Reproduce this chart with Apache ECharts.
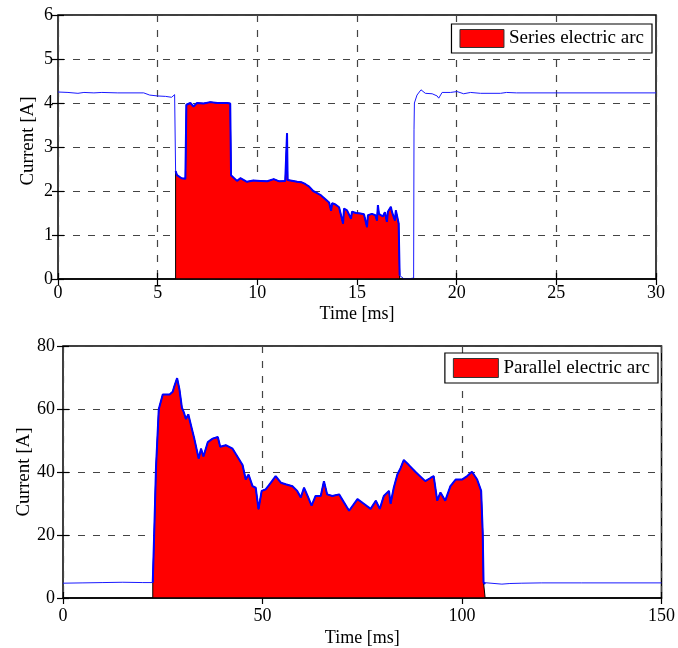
<!DOCTYPE html>
<html>
<head>
<meta charset="utf-8">
<script src="https://cdn.jsdelivr.net/npm/echarts@6/dist/echarts.min.js"></script>
<style>
html, body { margin: 0; padding: 0; background: #fff; }
#main { width: 678px; height: 648px; }
</style>
</head>
<body>
<div id="main"></div>
<script>
// top panel: series electric arc (time in ms, current in A)
var seriesTime = [0, 0.5, 1.0, 1.3, 1.8, 2.2, 3.0, 4.3, 4.6, 5.0, 5.4, 5.7, 5.8, 5.85, 5.87,
  5.9, 5.97, 6.2, 6.39, 6.44, 6.64, 6.8, 6.97, 7.3, 7.64, 8.0, 8.48, 8.64,
  8.68, 8.98, 9.15, 9.48, 9.8, 10.15, 10.5, 10.82, 11.1, 11.4, 11.47, 11.49, 11.52, 11.57,
  12.0, 12.1, 12.2, 12.3, 12.4, 12.49, 12.6, 12.7, 12.8, 12.9, 13.0, 13.1, 13.2, 13.3, 13.4,
  13.5, 13.6, 13.7, 13.75, 13.83, 13.9, 14.0, 14.1, 14.2, 14.3, 14.35, 14.45, 14.5, 14.6,
  14.7, 14.75, 14.85, 14.95, 15.05, 15.17, 15.25, 15.35, 15.45, 15.5, 15.55, 15.65, 15.75,
  15.84, 15.92, 16.0, 16.05, 16.1, 16.2, 16.3, 16.4, 16.5, 16.55, 16.6, 16.7, 16.75, 16.84,
  16.9, 16.95, 17.04, 17.09,
  17.14, 17.34, 17.67, 17.84, 17.86, 17.88, 18.01, 18.21, 18.43, 18.77, 19.02, 19.1, 19.27,
  19.69, 20.02, 20.35, 20.7, 21.19, 22.2, 22.5, 23.0, 30.0];
var seriesCurrent = [4.25, 4.24, 4.22, 4.24, 4.23, 4.24, 4.23, 4.23, 4.18, 4.16, 4.15, 4.13, 4.16, 4.19, 4.18,
  2.45, 2.36, 2.29, 2.28, 3.96, 4.0, 3.92, 4.0, 3.99, 4.02, 4.0, 4.0, 3.99,
  2.36, 2.23, 2.29, 2.21, 2.24, 2.23, 2.22, 2.27, 2.22, 2.23, 2.24, 3.31, 2.25, 2.23,
  2.21, 2.23, 2.2, 2.18, 2.16, 2.13, 2.1, 2.06, 2.0, 1.98, 1.95, 1.93, 1.9, 1.86, 1.82,
  1.79, 1.74, 1.55, 1.72, 1.68, 1.7, 1.66, 1.63, 1.62, 1.26, 1.6, 1.58, 1.56, 1.55,
  1.37, 1.53, 1.54, 1.5, 1.5, 1.49, 1.46, 1.47, 1.44, 1.18, 1.45, 1.43, 1.48,
  1.47, 1.45, 1.33, 1.68, 1.48, 1.5, 1.42, 1.52, 1.3, 1.53, 1.5, 1.64, 1.53, 1.56,
  1.33, 1.56, 1.57, 1.26,
  0.08, 0.01, 0.01, 0.02, 3.39, 4.0, 4.18, 4.3, 4.22, 4.21, 4.16, 4.11, 4.24,
  4.24, 4.26, 4.21, 4.24, 4.22, 4.22, 4.24, 4.23, 4.23];
var seriesArcStart = 5.9;
var seriesArcEnd = 17.14;

// bottom panel: parallel electric arc
var parallelTime = [0, 5, 10, 15, 20, 22.5, 22.7, 22.9, 23.3, 24.0, 25.0, 26.7, 27.5, 27.9, 28.6,
  29.2, 29.8, 30.3, 30.8, 31.4, 32.1, 32.9, 34.0, 34.6, 35.2, 36.3, 37.5, 38.8, 39.4, 40.8,
  42.5, 43.7, 45.0, 45.8, 46.5, 47.5, 48.3, 49.0, 49.8, 50.8, 52.1, 53.3, 54.6, 55.8, 57.5,
  58.7, 59.6, 60.4, 61.3, 62.3, 63.3, 64.6, 65.4, 66.2, 67.5, 69.2, 71.7, 73.8, 75.4, 77.1,
  78.4, 79.4, 80.4, 81.7, 82.1, 82.9, 83.8, 84.6, 85.4, 86.7, 88.3, 90.8, 92.1, 92.9, 93.8,
  94.6, 95.8, 97.1, 98.4, 100.0, 101.3, 102.5, 103.8, 104.8, 105.2, 105.4, 105.8, 110, 112,
  115, 120, 130, 150];
var parallelCurrent = [4.7, 4.8, 4.9, 5.0, 4.9, 4.9, 4.9, 22.5, 41.2, 59.9, 64.6, 64.6, 65.5, 67.2, 69.8,
  66.1, 60.4, 58.9, 56.8, 58.3, 54.7, 50.6, 44.3, 47.4, 44.9, 49.5, 50.6, 51.1, 48.0, 48.5,
  47.4, 44.9, 42.2, 37.6, 39.2, 35.5, 35.0, 28.2, 34.0, 34.5, 36.6, 38.7, 36.6, 36.1, 35.5,
  34.0, 31.9, 35.0, 32.4, 29.3, 32.4, 32.4, 37.1, 32.9, 32.4, 32.9, 27.7, 31.4, 29.9, 28.3,
  30.9, 28.3, 32.4, 34.0, 29.9, 35.0, 39.2, 41.2, 43.8, 42.2, 40.1, 37.1, 38.1, 38.7, 30.9,
  33.5, 30.9, 35.5, 37.6, 37.6, 38.7, 40.1, 37.6, 34.0, 20.4, 4.9, 4.4, 4.4, 4.6,
  4.7, 4.8, 4.8, 4.8];
var parallelArcStart = 22.5;
var parallelArcEnd = 105.8;

var FONT = 'Liberation Serif';

function pairs(t, c) {
  var out = [];
  for (var i = 0; i < t.length; i++) out.push([t[i], c[i]]);
  return out;
}

function arcOutline(t, c, a, b) {
  var out = [];
  for (var i = 0; i < t.length; i++) {
    if (t[i] >= a && t[i] <= b) out.push([t[i], c[i]]);
  }
  return out;
}

function arcArea(t, c, a, b) {
  return [[a, 0]].concat(arcOutline(t, c, a, b), [[b, 0]]);
}

var dashed = { show: true, lineStyle: { color: '#444', type: [7, 8], width: 1.2 } };
var tickIn = { show: true, inside: true, length: 6, lineStyle: { color: '#000', width: 1.2 } };

function xAxisCfg(grid, max, interval, labelMargin, nameGap) {
  return {
    type: 'value', gridIndex: grid, min: 0, max: max, interval: interval,
    name: 'Time [ms]', nameLocation: 'middle', nameGap: nameGap, nameMoveOverlap: false,
    nameTextStyle: { fontFamily: FONT, fontSize: 18, color: '#000' },
    axisLine: { show: false },
    axisTick: tickIn,
    axisLabel: { fontFamily: FONT, fontSize: 18, color: '#000', margin: labelMargin },
    splitLine: dashed
  };
}

function yAxisCfg(grid, max, interval, labelMargin, nameGap, namePad) {
  return {
    type: 'value', gridIndex: grid, min: 0, max: max, interval: interval,
    name: 'Current [A]', nameLocation: 'middle', nameGap: nameGap, nameMoveOverlap: false,
    nameTextStyle: { fontFamily: FONT, fontSize: 19, color: '#000', padding: namePad },
    axisLine: { show: false },
    axisTick: tickIn,
    axisLabel: { fontFamily: FONT, fontSize: 18, color: '#000', margin: labelMargin },
    splitLine: dashed
  };
}

// bottom frame line drawn above the red fill
function frameAxis(grid, max) {
  return {
    type: 'value', gridIndex: grid, min: 0, max: max, z: 10, position: 'bottom',
    axisLine: { show: true, onZero: false, lineStyle: { color: '#000', width: 1.5 } },
    axisTick: { show: false }, axisLabel: { show: false }, splitLine: { show: false }
  };
}

// tick marks on the top / right edge of the box
function mirrorAxis(grid, max, interval, pos) {
  return {
    type: 'value', gridIndex: grid, min: 0, max: max, interval: interval, position: pos,
    axisLine: { show: false }, axisTick: tickIn,
    axisLabel: { show: false }, splitLine: { show: false }
  };
}

function legendCfg(name, right, top, w, h) {
  return {
    data: [{ name: name, icon: 'rect', itemStyle: { color: '#ff0000', borderColor: '#333', borderWidth: 1 } }],
    right: right, top: top,
    itemWidth: w, itemHeight: h, itemGap: 5,
    padding: [5, 8, 5, 8],
    backgroundColor: '#fff', borderColor: '#000', borderWidth: 1.2,
    textStyle: { fontFamily: FONT, fontSize: 19, color: '#000' },
    selectedMode: false
  };
}

function arcSeries(name, xi, yi, t, c, a, b) {
  return [
    {
      name: name, type: 'line', xAxisIndex: xi, yAxisIndex: yi,
      data: arcArea(t, c, a, b), symbol: 'none', animation: false,
      itemStyle: { color: '#ff0000' },
      lineStyle: { color: '#000', width: 1 },
      areaStyle: { color: '#ff0000', opacity: 1 }
    },
    {
      name: name + ' signal', type: 'line', xAxisIndex: xi, yAxisIndex: yi,
      data: pairs(t, c), symbol: 'none', animation: false,
      lineStyle: { color: '#1a1aff', width: 1 }
    },
    {
      name: name + ' outline', type: 'line', xAxisIndex: xi, yAxisIndex: yi,
      data: arcOutline(t, c, a, b), symbol: 'none', animation: false,
      lineStyle: { color: '#0000ff', width: 2 }
    }
  ];
}

var option = {
  backgroundColor: '#fff',
  animation: false,
  grid: [
    { left: 58, right: 22, top: 15, height: 264, show: true, borderColor: '#000', borderWidth: 1.5 },
    { left: 63, right: 15, top: 346, height: 256, show: true, borderColor: '#000', borderWidth: 1.5 }
  ],
  xAxis: [
    xAxisCfg(0, 30, 5, 5, 26),
    xAxisCfg(1, 150, 50, 9, 31),
    frameAxis(0, 30),
    frameAxis(1, 150),
    mirrorAxis(0, 30, 5, 'top'),
    mirrorAxis(1, 150, 50, 'top')
  ],
  yAxis: [
    yAxisCfg(0, 6, 1, 5, 20, [0, 0, 0, 12]),
    yAxisCfg(1, 80, 20, 8, 29, 0),
    mirrorAxis(0, 6, 1, 'right'),
    mirrorAxis(1, 80, 20, 'right')
  ],
  legend: [
    legendCfg('Series electric arc', 26, 24, 44, 18),
    legendCfg('Parallel electric arc', 20, 353, 45, 19)
  ],
  series: [].concat(
    arcSeries('Series electric arc', 0, 0, seriesTime, seriesCurrent, seriesArcStart, seriesArcEnd),
    arcSeries('Parallel electric arc', 1, 1, parallelTime, parallelCurrent, parallelArcStart, parallelArcEnd)
  )
};

echarts.init(document.getElementById('main')).setOption(option);
</script>
</body>
</html>
